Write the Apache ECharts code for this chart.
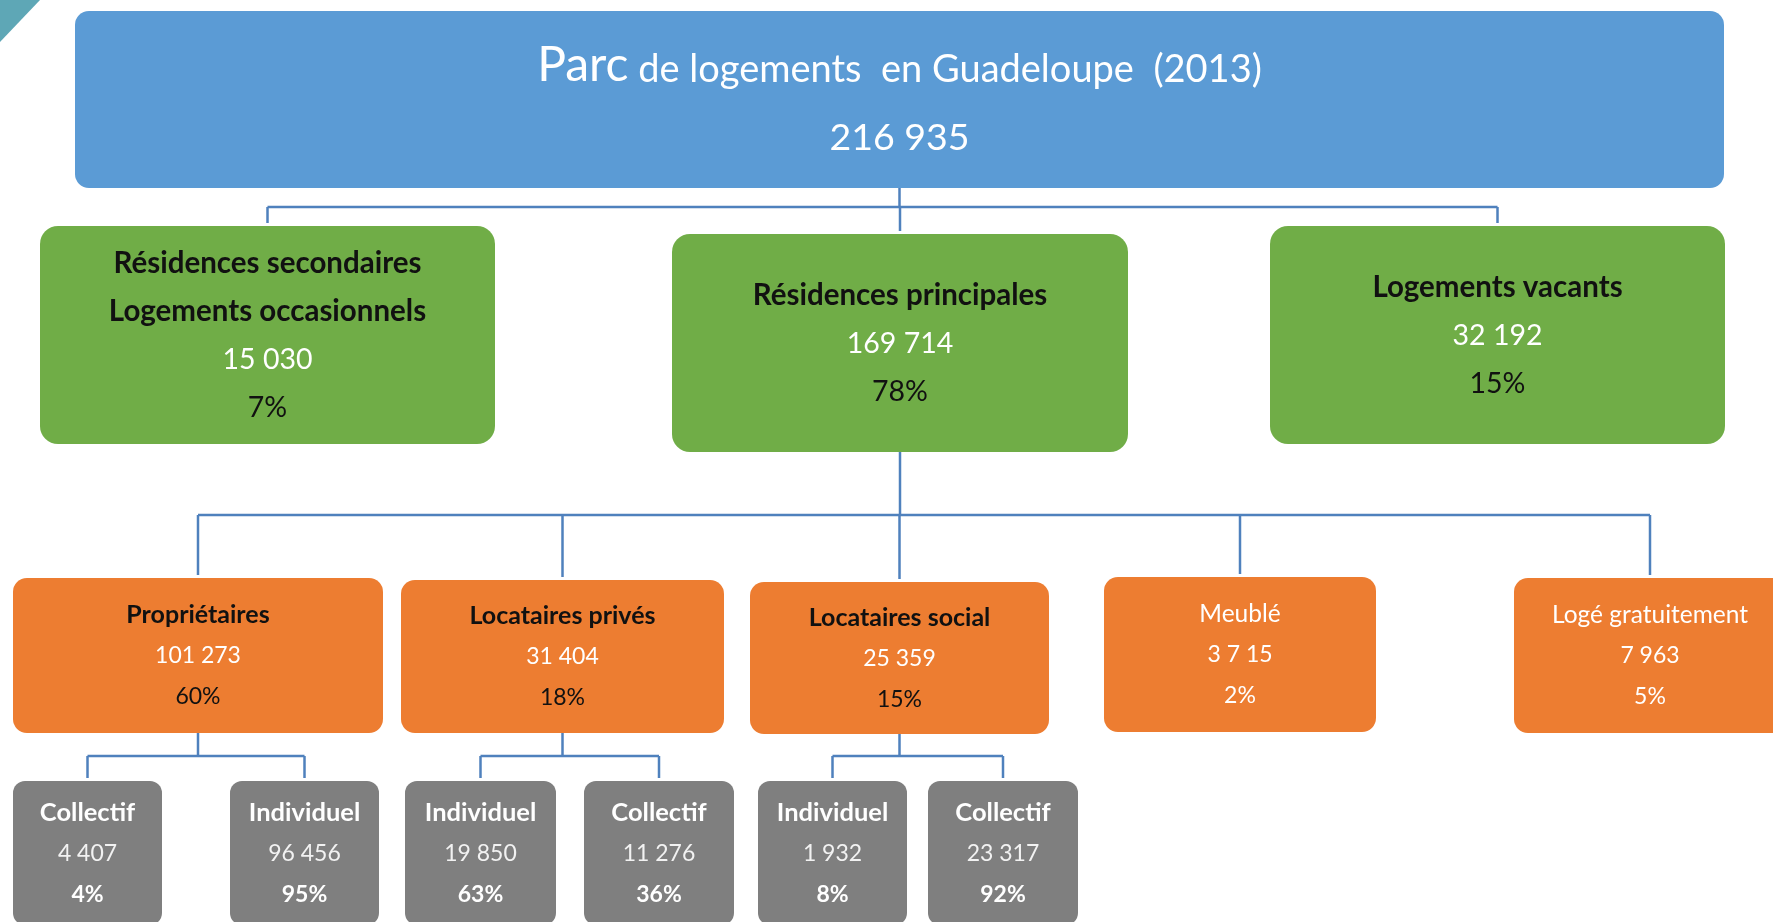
<!DOCTYPE html>
<html>
<head>
<meta charset="utf-8">
<script src="https://cdn.jsdelivr.net/npm/echarts@6/dist/echarts.min.js"></script>
<style>
html,body{margin:0;padding:0;background:#ffffff;overflow:hidden}
#chart{width:1773px;height:922px}
</style>
</head>
<body>
<div id="chart"></div>
<script>
// ---------------- DATA ----------------
const nodeTitles = [
  'Parc de logements  en Guadeloupe  (2013)',
  'Résidences secondaires\nLogements occasionnels',
  'Résidences principales',
  'Logements vacants',
  'Propriétaires',
  'Locataires privés',
  'Locataires social',
  'Meublé',
  'Logé gratuitement',
  'Collectif',
  'Individuel',
  'Individuel',
  'Collectif',
  'Individuel',
  'Collectif'
];
const nodeValueLabels = ['216 935','15 030','169 714','32 192','101 273','31 404','25 359','3 7 15','7 963','4 407','96 456','19 850','11 276','1 932','23 317'];
const nodePercents = ['', '7%', '78%', '15%', '60%', '18%', '15%', '2%', '5%', '4%', '95%', '63%', '36%', '8%', '92%'];
const nodeParents = [-1, 0, 0, 0, 2, 2, 2, 2, 2, 4, 4, 5, 5, 6, 6];
const nodeLevels = [0, 1, 1, 1, 2, 2, 2, 2, 2, 3, 3, 3, 3, 3, 3];

// ---------------- LAYOUT (axis units) ----------------
const boxCenterX = [899.5, 267.5, 900, 1497.5, 198, 562.5, 899.5, 1240, 1650, 87.5, 304.5, 480.5, 659, 832.5, 1003];
const boxTop     = [11, 226, 234, 226, 578, 580, 582, 577, 578, 781, 781, 781, 781, 781, 781];
const boxWidth   = [1649, 455, 456, 455, 370, 323, 299, 272, 272, 149, 149, 151, 150, 149, 150];
const boxHeight  = [177, 218, 218, 218, 155, 153, 152, 155, 155, 144, 144, 144, 144, 144, 144];
const busY = [207, 515, 756];           // horizontal connector y below each level
const lineSpacing = [72, 48, 41, 41];   // per level
const lineOffset = [2.5, 0.5, 0.5, 0.5];

// ---------------- STYLES ----------------
const FONT = 'Lato, "Noto Sans", sans-serif';
const levelFill = ['#5B9BD5', '#70AD47', '#ED7D31', '#7F7F7F'];
const levelRadius = [14, 18, 14, 12];
const levelFontSize = [37.5, 28.5, 23, 23];
const levelTitleFontSize = [37.5, 29.5, 25, 25.5];
const plainWhiteNodes = [7, 8]; // Meublé, Logé gratuitement
const connectorColor = '#4F81BD';

function textStyles(i) {
  const lv = nodeLevels[i];
  if (lv === 3) {
    return {
      title: {fill: '#ffffff', fontWeight: 'bold'},
      value: {fill: '#f2f2f2', fontWeight: 'normal'},
      pct: {fill: '#ffffff', fontWeight: 'bold'}
    };
  }
  if (plainWhiteNodes.indexOf(i) >= 0) {
    return {
      title: {fill: '#ffffff', fontWeight: 'normal'},
      value: {fill: '#ffffff', fontWeight: 'normal'},
      pct: {fill: '#ffffff', fontWeight: 'normal'}
    };
  }
  return {
    title: {fill: '#111111', fontWeight: 'bold'},
    value: {fill: '#ffffff', fontWeight: 'normal'},
    pct: {fill: '#111111', fontWeight: 'normal'}
  };
}

// ---------------- BUILD SERIES DATA ----------------
const boxData = nodeTitles.map(function (t, i) {
  return {value: [boxCenterX[i], boxTop[i], boxWidth[i], boxHeight[i], i], name: t};
});
const parentsWithChildren = [];
nodeParents.forEach(function (p) {
  if (p >= 0 && parentsWithChildren.indexOf(p) < 0) parentsWithChildren.push(p);
});
const connectorData = parentsWithChildren.map(function (p) { return {value: [boxCenterX[p], boxTop[p], p]}; });

function renderBox(params, api) {
  const i = api.value(4);
  const cx = api.value(0), top = api.value(1), w = api.value(2), h = api.value(3);
  const lv = nodeLevels[i];
  const p1 = api.coord([cx - w / 2, top]);
  const p2 = api.coord([cx + w / 2, top + h]);
  const children = [{
    type: 'rect',
    shape: {x: p1[0], y: p1[1], width: p2[0] - p1[0], height: p2[1] - p1[1], r: levelRadius[lv]},
    style: {fill: levelFill[lv]}
  }];
  const st = textStyles(i);
  let lines = [];
  if (lv === 0) {
    lines.push({rich: true, text: nodeTitles[i]});
    lines.push({text: nodeValueLabels[i], s: {fill: '#ffffff', fontWeight: 'normal'}, fs: levelFontSize[lv]});
  } else {
    nodeTitles[i].split('\n').forEach(function (t) {
      lines.push({text: t, s: st.title,
        fs: st.title.fontWeight === 'bold' ? levelTitleFontSize[lv] : levelTitleFontSize[lv] - 0.5});
    });
    lines.push({text: nodeValueLabels[i], s: st.value, fs: levelFontSize[lv]});
    if (nodePercents[i]) lines.push({text: nodePercents[i], s: st.pct, fs: levelFontSize[lv]});
  }
  const n = lines.length;
  const cyData = top + h / 2 + lineOffset[lv];
  lines.forEach(function (ln, k) {
    const yData = cyData + (k - (n - 1) / 2) * lineSpacing[lv];
    const pt = api.coord([cx, yData]);
    if (ln.rich) {
      const first = ln.text.split(' ')[0];
      const rest = ln.text.substring(first.length);
      children.push({
        type: 'text',
        style: {
          text: '{a|' + first + '}{b|' + rest + '}',
          x: pt[0], y: pt[1],
          align: 'center', verticalAlign: 'middle',
          rich: {
            a: {fontSize: 48, fontFamily: FONT, fill: '#ffffff', lineHeight: 48, verticalAlign: 'bottom'},
            b: {fontSize: 38, fontFamily: FONT, fill: '#ffffff', lineHeight: 38, verticalAlign: 'bottom', padding: [0, 0, 1, 0]}
          }
        }
      });
    } else {
      children.push({
        type: 'text',
        style: {
          text: ln.text, x: pt[0], y: pt[1],
          align: 'center', verticalAlign: 'middle',
          fontSize: ln.fs, fontFamily: FONT,
          fontWeight: ln.s.fontWeight, fill: ln.s.fill
        }
      });
    }
  });
  return {type: 'group', children: children};
}

function renderConnector(params, api) {
  const p = api.value(2);
  const lv = nodeLevels[p];
  const kids = [];
  nodeParents.forEach(function (q, j) { if (q === p) kids.push(j); });
  const bus = busY[lv];
  const pcx = boxCenterX[p];
  const pBottom = boxTop[p] + boxHeight[p];
  let minX = pcx, maxX = pcx;
  kids.forEach(function (j) { minX = Math.min(minX, boxCenterX[j]); maxX = Math.max(maxX, boxCenterX[j]); });
  const segs = [];
  segs.push([[pcx, pBottom], [pcx, bus]]);
  segs.push([[minX, bus], [maxX, bus]]);
  kids.forEach(function (j) { segs.push([[boxCenterX[j], bus], [boxCenterX[j], boxTop[j] - 3]]); });
  const children = segs.map(function (s) {
    const a = api.coord(s[0]), b = api.coord(s[1]);
    return {type: 'line', shape: {x1: a[0], y1: a[1], x2: b[0], y2: b[1]},
      style: {stroke: connectorColor, lineWidth: 2.5}};
  });
  return {type: 'group', children: children};
}

const chart = echarts.init(document.getElementById('chart'), null, {renderer: 'canvas'});
chart.setOption({
  backgroundColor: '#ffffff',
  animation: false,
  grid: {left: 0, right: 0, top: 0, bottom: 0},
  xAxis: {type: 'value', min: 0, max: 1773, show: false},
  yAxis: {type: 'value', min: 0, max: 922, inverse: true, show: false},
  graphic: [{
    type: 'polygon', left: 0, top: 0, silent: true,
    shape: {points: [[0, 0], [40, 0], [0, 42]]},
    style: {fill: '#5EA7B6'}
  }],
  series: [
    {type: 'custom', name: 'connectors', clip: false, z: 1, silent: true,
     renderItem: renderConnector, data: connectorData},
    {type: 'custom', name: 'boxes', clip: false, z: 2, silent: true,
     renderItem: renderBox, data: boxData}
  ]
});
</script>
</body>
</html>
